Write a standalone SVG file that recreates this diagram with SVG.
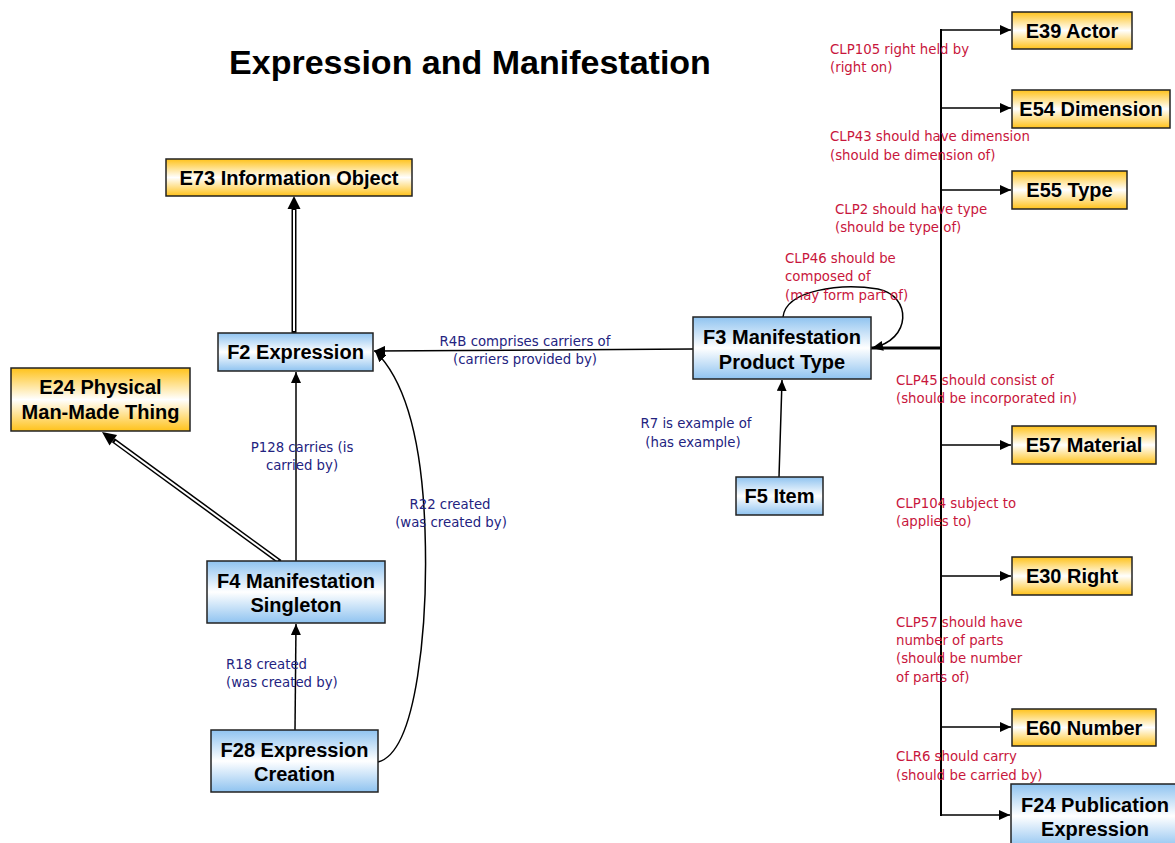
<svg xmlns="http://www.w3.org/2000/svg" width="1175" height="843" viewBox="0 0 1175 843">
<defs>
<linearGradient id="gOr" x1="0" y1="0" x2="0" y2="1">
<stop offset="0" stop-color="#FFC21A"/><stop offset="0.5" stop-color="#FFFFFF"/><stop offset="1" stop-color="#FFC21A"/>
</linearGradient>
<linearGradient id="gBl" x1="0" y1="0" x2="0" y2="1">
<stop offset="0" stop-color="#8FC3F0"/><stop offset="0.5" stop-color="#FFFFFF"/><stop offset="1" stop-color="#8FC3F0"/>
</linearGradient>
<marker id="ah" markerUnits="userSpaceOnUse" markerWidth="12" markerHeight="10" refX="11" refY="5" orient="auto">
<path d="M0,0 L11,5 L0,10 z" fill="#000"/>
</marker>
<style>
.or{fill:url(#gOr);stroke:#222;stroke-width:1.5}
.bl{fill:url(#gBl);stroke:#222;stroke-width:1.5}
.nt{font-family:"Liberation Sans",Arial,sans-serif;font-weight:bold;font-size:20px;fill:#000;text-anchor:middle}
.ln{fill:none;stroke:#000;stroke-width:1.5}
.bt{font-family:"DejaVu Sans",Verdana,sans-serif;font-size:13.3px;fill:#23237F}
.rt{font-family:"DejaVu Sans",Verdana,sans-serif;font-size:13.3px;fill:#C8163C}
.c{text-anchor:middle}
</style>
</defs>
<rect width="1175" height="843" fill="#fff"/>
<text x="470" y="74" font-family="Liberation Sans,Arial,sans-serif" font-weight="bold" font-size="34" text-anchor="middle">Expression and Manifestation</text>

<g id="connectors">
<!-- F2 -> E73 double -->
<line x1="294" y1="333" x2="294" y2="208" stroke="#000" stroke-width="5"/>
<line x1="294" y1="331" x2="294" y2="210" stroke="#fff" stroke-width="2"/>
<polygon points="294,196 287.5,209 300.5,209" fill="#000"/>
<!-- F4 -> E24 double -->
<line x1="280" y1="562" x2="113.3" y2="440.3" stroke="#000" stroke-width="5"/>
<line x1="278" y1="560.5" x2="115" y2="441.6" stroke="#fff" stroke-width="2"/>
<polygon points="102,432 117.1,435 109.5,445.5" fill="#000"/>
<!-- P128 -->
<line class="ln" x1="296" y1="561" x2="296" y2="372" marker-end="url(#ah)"/>
<!-- R18 -->
<line class="ln" x1="295" y1="730" x2="296" y2="624" marker-end="url(#ah)"/>
<!-- R22 -->
<path class="ln" d="M378,762 C418,752 428,620 425,530 C422,440 405,380 375,351" marker-end="url(#ah)"/>
<!-- R4B -->
<line class="ln" x1="693" y1="349" x2="374" y2="351" marker-end="url(#ah)"/>
<!-- R7 -->
<line class="ln" x1="779" y1="477" x2="782" y2="380" marker-end="url(#ah)"/>
<!-- CLP46 loop -->
<path class="ln" d="M783,317 C786,290 840,283 878,289 C912,296 912,340 872,348" marker-end="url(#ah)"/>
<!-- bus -->
<line x1="871" y1="348" x2="941" y2="348" stroke="#000" stroke-width="3"/>
<line x1="941" y1="29" x2="941" y2="816" stroke="#000" stroke-width="2"/>
<line class="ln" x1="941" y1="30" x2="1011" y2="30" marker-end="url(#ah)"/>
<line class="ln" x1="941" y1="108" x2="1011" y2="108" marker-end="url(#ah)"/>
<line class="ln" x1="941" y1="190" x2="1011" y2="190" marker-end="url(#ah)"/>
<line class="ln" x1="941" y1="445" x2="1011" y2="445" marker-end="url(#ah)"/>
<line class="ln" x1="941" y1="576" x2="1011" y2="576" marker-end="url(#ah)"/>
<line class="ln" x1="941" y1="727" x2="1011" y2="727" marker-end="url(#ah)"/>
<line class="ln" x1="941" y1="815" x2="1010" y2="815" marker-end="url(#ah)"/>
</g>

<g id="labels">
<text class="bt c" x="302" y="452">P128 carries (is</text>
<text class="bt c" x="302" y="470">carried by)</text>
<text class="bt" x="226" y="669">R18 created</text>
<text class="bt" x="226" y="687">(was created by)</text>
<text class="bt c" x="450" y="509">R22 created</text>
<text class="bt c" x="451" y="527">(was created by)</text>
<text class="bt c" x="525" y="346">R4B comprises carriers of</text>
<text class="bt c" x="525" y="364">(carriers provided by)</text>
<text class="bt c" x="696" y="428">R7 is example of</text>
<text class="bt c" x="693" y="447">(has example)</text>
<text class="rt" x="830" y="54">CLP105 right held by</text>
<text class="rt" x="830" y="72">(right on)</text>
<text class="rt" x="830" y="141">CLP43 should have dimension</text>
<text class="rt" x="830" y="160">(should be dimension of)</text>
<text class="rt" x="835" y="214">CLP2 should have type</text>
<text class="rt" x="835" y="232">(should be type of)</text>
<text class="rt" x="785" y="263">CLP46 should be</text>
<text class="rt" x="785" y="281">composed of</text>
<text class="rt" x="785" y="300">(may form part of)</text>
<text class="rt" x="896" y="385">CLP45 should consist of</text>
<text class="rt" x="896" y="403">(should be incorporated in)</text>
<text class="rt" x="896" y="508">CLP104 subject to</text>
<text class="rt" x="896" y="526">(applies to)</text>
<text class="rt" x="896" y="627">CLP57 should have</text>
<text class="rt" x="896" y="645">number of parts</text>
<text class="rt" x="896" y="663">(should be number</text>
<text class="rt" x="896" y="682">of parts of)</text>
<text class="rt" x="896" y="761">CLR6 should carry</text>
<text class="rt" x="896" y="780">(should be carried by)</text>
</g>

<g id="E73"><rect class="or" x="166" y="159" width="246" height="37"/><text class="nt" x="289" y="185">E73 Information Object</text></g>
<g id="F2"><rect class="bl" x="218" y="333" width="155" height="38"/><text class="nt" x="295.5" y="359">F2 Expression</text></g>
<g id="E24"><rect class="or" x="11" y="368" width="179" height="63"/><text class="nt" x="100.5" y="394">E24 Physical</text><text class="nt" x="100.5" y="419">Man-Made Thing</text></g>
<g id="F4"><rect class="bl" x="207" y="561" width="178" height="62"/><text class="nt" x="296" y="588">F4 Manifestation</text><text class="nt" x="296" y="612">Singleton</text></g>
<g id="F28"><rect class="bl" x="211" y="730" width="167" height="62"/><text class="nt" x="294.5" y="757">F28 Expression</text><text class="nt" x="294.5" y="781">Creation</text></g>
<g id="F3"><rect class="bl" x="693" y="317" width="178" height="62"/><text class="nt" x="782" y="344">F3 Manifestation</text><text class="nt" x="782" y="369">Product Type</text></g>
<g id="F5"><rect class="bl" x="736" y="477" width="87" height="38"/><text class="nt" x="779.5" y="503">F5 Item</text></g>
<g id="E39"><rect class="or" x="1012" y="12" width="120" height="37"/><text class="nt" x="1072" y="38">E39 Actor</text></g>
<g id="E54"><rect class="or" x="1012" y="90" width="158" height="38"/><text class="nt" x="1091" y="116">E54 Dimension</text></g>
<g id="E55"><rect class="or" x="1012" y="171" width="115" height="38"/><text class="nt" x="1069.5" y="197">E55 Type</text></g>
<g id="E57"><rect class="or" x="1012" y="426" width="144" height="38"/><text class="nt" x="1084" y="452">E57 Material</text></g>
<g id="E30"><rect class="or" x="1012" y="557" width="120" height="38"/><text class="nt" x="1072" y="583">E30 Right</text></g>
<g id="E60"><rect class="or" x="1012" y="709" width="144" height="37"/><text class="nt" x="1084" y="735">E60 Number</text></g>
<g id="F24"><rect class="bl" x="1011" y="784" width="170" height="64"/><text class="nt" x="1095" y="812">F24 Publication</text><text class="nt" x="1095" y="836">Expression</text></g>
</svg>
